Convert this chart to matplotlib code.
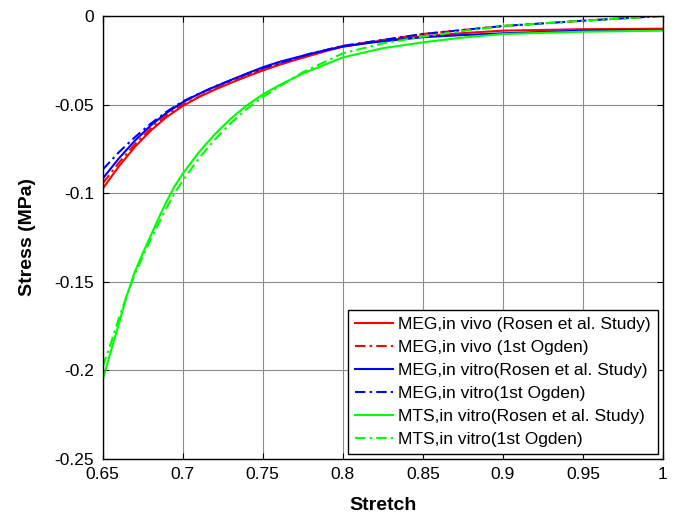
import matplotlib
matplotlib.use("Agg")
import matplotlib.pyplot as plt

plt.rcParams['font.family'] = ['Liberation Sans', 'DejaVu Sans']
plt.rcParams['axes.unicode_minus'] = False

# ---- data ----
x_red_solid = [0.65, 0.66, 0.67, 0.68, 0.69, 0.70, 0.71, 0.72, 0.73, 0.74, 0.75, 0.76, 0.77,
               0.78, 0.79, 0.80, 0.82, 0.85, 0.875, 0.90, 0.95, 1.0]
y_red_solid = [-0.0975, -0.0850, -0.0740, -0.0647, -0.0570, -0.0508, -0.0458, -0.0416, -0.0378,
               -0.0342, -0.0308, -0.0277, -0.0249, -0.0223, -0.0197, -0.0174, -0.0145, -0.0115,
               -0.0097, -0.0083, -0.0075, -0.0072]

x_red_dd = [0.65, 0.66, 0.67, 0.68, 0.69, 0.70, 0.72, 0.74, 0.75, 0.78, 0.80, 0.85, 0.90, 0.95, 1.0]
y_red_dd = [-0.0945, -0.0830, -0.0725, -0.0635, -0.0560, -0.0500, -0.0412, -0.0338, -0.0302,
            -0.0215, -0.0170, -0.0102, -0.0057, -0.0027, 0.0]

x_blue_solid = [0.65, 0.66, 0.67, 0.68, 0.69, 0.70, 0.71, 0.72, 0.73, 0.74, 0.75, 0.76, 0.78,
                0.80, 0.82, 0.85, 0.875, 0.90, 0.95, 1.0]
y_blue_solid = [-0.0918, -0.0805, -0.0705, -0.0618, -0.0546, -0.0487, -0.0440, -0.0400, -0.0362,
                -0.0325, -0.0290, -0.0260, -0.0213, -0.0172, -0.0148, -0.0120, -0.0108, -0.0098,
                -0.0083, -0.0079]

x_blue_dd = [0.65, 0.66, 0.67, 0.68, 0.69, 0.70, 0.72, 0.74, 0.75, 0.78, 0.80, 0.85, 0.90, 0.95, 1.0]
y_blue_dd = [-0.0867, -0.0770, -0.0685, -0.0608, -0.0540, -0.0482, -0.0398, -0.0328, -0.0295,
             -0.0212, -0.0169, -0.0102, -0.0057, -0.0027, 0.0]

x_green_solid = [0.65, 0.655, 0.66, 0.665, 0.67, 0.675, 0.68, 0.685, 0.69, 0.695, 0.70, 0.71,
                 0.72, 0.73, 0.74, 0.75, 0.76, 0.775, 0.80, 0.825, 0.85, 0.875, 0.90, 0.95, 1.0]
y_green_solid = [-0.2055, -0.1895, -0.1740, -0.1580, -0.1445, -0.1340, -0.1240, -0.1140, -0.1045,
                 -0.0960, -0.0890, -0.0770, -0.0668, -0.0580, -0.0505, -0.0443, -0.0392, -0.0325,
                 -0.0234, -0.0182, -0.0149, -0.0122, -0.0102, -0.0089, -0.0083]

x_green_dd = [0.65, 0.655, 0.66, 0.665, 0.67, 0.675, 0.68, 0.685, 0.69, 0.695, 0.70, 0.71,
              0.72, 0.73, 0.74, 0.75, 0.76, 0.775, 0.80, 0.825, 0.85, 0.875, 0.90, 0.95, 1.0]
y_green_dd = [-0.1980, -0.1850, -0.1710, -0.1580, -0.1460, -0.1360, -0.1260, -0.1170, -0.1080,
              -0.1000, -0.0930, -0.0805, -0.0698, -0.0605, -0.0525, -0.0458, -0.0400, -0.0318,
              -0.0211, -0.0155, -0.0117, -0.0085, -0.0057, -0.0027, 0.0]

labels = ["MEG,in vivo (Rosen et al. Study)",
          "MEG,in vivo (1st Ogden)",
          "MEG,in vitro(Rosen et al. Study)",
          "MEG,in vitro(1st Ogden)",
          "MTS,in vitro(Rosen et al. Study)",
          "MTS,in vitro(1st Ogden)"]

x_ticks = [0.65, 0.7, 0.75, 0.8, 0.85, 0.9, 0.95, 1.0]
x_ticklabels = ["0.65", "0.7", "0.75", "0.8", "0.85", "0.9", "0.95", "1"]
y_ticks = [0, -0.05, -0.1, -0.15, -0.2, -0.25]
y_ticklabels = ["0", "-0.05", "-0.1", "-0.15", "-0.2", "-0.25"]

# ---- figure ----
fig = plt.figure(figsize=(6.8, 5.14), dpi=100)
ax = fig.add_axes([0.151, 0.107, 0.824, 0.862])

dd = (0, (5, 2, 1.2, 2))
lw = 1.5
ax.plot(x_red_solid, y_red_solid, color=(1, 0, 0), lw=lw, label=labels[0])
ax.plot(x_red_dd, y_red_dd, color=(1, 0, 0), lw=lw, ls=dd, label=labels[1])
ax.plot(x_blue_solid, y_blue_solid, color=(0, 0, 1), lw=lw, label=labels[2])
ax.plot(x_blue_dd, y_blue_dd, color=(0, 0, 1), lw=lw, ls=dd, label=labels[3])
ax.plot(x_green_solid, y_green_solid, color=(0, 1, 0), lw=lw, label=labels[4])
ax.plot(x_green_dd, y_green_dd, color=(0, 1, 0), lw=lw, ls=dd, label=labels[5])

ax.set_xlim(0.65, 1.0)
ax.set_ylim(-0.25, 0)
ax.set_xticks(x_ticks)
ax.set_xticklabels(x_ticklabels)
ax.set_yticks(y_ticks)
ax.set_yticklabels(y_ticklabels)
ax.tick_params(direction='in', top=True, right=True, labelsize=12.5, length=4, width=0.8,
               pad=6)

ax.grid(True, color=(0.55, 0.55, 0.55), lw=0.8, ls='-')
ax.set_axisbelow(True)
for s in ax.spines.values():
    s.set_linewidth(1.0)
    s.set_color('black')

ax.set_xlabel("Stretch", fontsize=14, fontweight='bold', va='center')
ax.set_ylabel("Stress (MPa)", fontsize=14, fontweight='bold', va='center')
ax.xaxis.set_label_coords(0.5, -0.104)
ax.yaxis.set_label_coords(-0.135, 0.5)

leg = ax.legend(loc='lower right', fontsize=12.5, frameon=True, fancybox=False,
                edgecolor='black', framealpha=1, handlelength=2.2, handletextpad=0.3,
                labelspacing=0.45, borderpad=0.4, borderaxespad=0.3)
leg.get_frame().set_linewidth(1.0)

fig.savefig("out.png", dpi=100)
